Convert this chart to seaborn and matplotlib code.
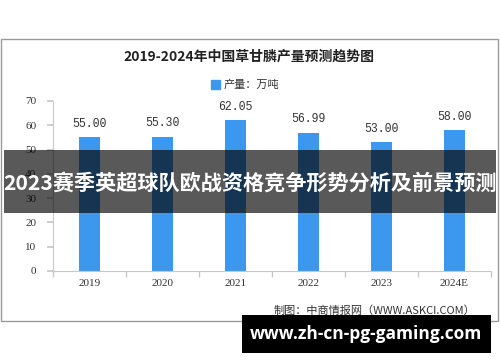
import matplotlib
matplotlib.use("Agg")
import matplotlib.pyplot as plt
from matplotlib.patches import Rectangle
import seaborn as sns
import pandas as pd

years = ["2019", "2020", "2021", "2022", "2023", "2024E"]
output = [55.00, 55.30, 62.05, 56.99, 53.00, 58.00]
y_ticks = [0, 10, 20, 30, 40, 50, 60, 70]
title = "2019-2024年中国草甘膦产量预测趋势图"
legend_label = "产量：万吨"
source = "制图：中商情报网（WWW.ASKCI.COM）"
overlay_text = "2023赛季英超球队欧战资格竞争形势分析及前景预测"
site_text = "www.zh-cn-pg-gaming.com"

sns.set_theme(style="white")
plt.rcParams['font.family'] = ['Noto Sans CJK SC', 'DejaVu Sans']

W, H = 500, 362
fig = plt.figure(figsize=(5, 3.62), dpi=100)
fig.patch.set_facecolor("white")

def fx(px):
    return px / W

def fy(py):
    return 1 - py / H

# frame
fig.patches.append(Rectangle((fx(0.5), fy(321)), fx(498) - fx(0.5), fy(39) - fy(321),
                             transform=fig.transFigure, fill=False,
                             edgecolor="#9a9a9a", linewidth=1.0, zorder=0))

ax = fig.add_axes([fx(53), fy(271), fx(491) - fx(53), fy(101) - fy(271)])
ax.set_facecolor("none")
df = pd.DataFrame({"year": years, "value": output})
bar_color = "#3c98ef"
sns.barplot(data=df, x="year", y="value", order=years, color=bar_color,
            width=0.3, saturation=1, ax=ax, edgecolor="none")
ax.set_xlim(-0.5, len(years) - 0.5)
ax.set_ylim(0, 70)
ax.set_yticks(y_ticks)
ax.set_xlabel("")
ax.set_ylabel("")
for s in ["top", "right"]:
    ax.spines[s].set_visible(False)
for s in ["left", "bottom"]:
    ax.spines[s].set_color("#c8c8c8")
    ax.spines[s].set_linewidth(0.8)
ax.tick_params(axis="y", length=4, color="#c8c8c8", labelsize=8, labelcolor="#333333", pad=8, left=True)
ax.tick_params(axis="x", length=0, labelsize=8, labelcolor="#333333", pad=6)
for lab in ax.get_yticklabels() + ax.get_xticklabels():
    lab.set_fontfamily(["Liberation Serif", "DejaVu Serif"])
# category boundary ticks
ax.set_xticks([i + 0.5 for i in range(-1, len(years))], minor=True)
ax.tick_params(axis="x", which="minor", length=4, color="#c8c8c8", bottom=True)

for i, v in enumerate(output):
    ax.text(i, v + 3.0, f"{v:.2f}", ha="center", va="bottom", fontsize=8.3,
            color="#333333", family=["Liberation Mono", "DejaVu Sans Mono"])

fig.text(fx(249), fy(57), title, ha="center", va="center", fontsize=10,
         fontweight="bold", color="#222222")
fig.patches.append(Rectangle((fx(211), fy(89)), fx(9), fy(80) - fy(89),
                             transform=fig.transFigure, color=bar_color))
fig.text(fx(224), fy(84.5), legend_label, ha="left", va="center", fontsize=8, color="#333333")

fig.text(fx(475), fy(311), source, ha="right", va="center", fontsize=8, color="#333333")

# dark overlay band
fig.patches.append(Rectangle((fx(4), fy(213)), fx(496) - fx(4), fy(150) - fy(213),
                             transform=fig.transFigure, color="black", alpha=0.65,
                             linewidth=0, zorder=10))
fig.text(fx(250), fy(183), overlay_text, ha="center", va="center", fontsize=15.2,
         fontweight="bold", color="white", zorder=11)

# bottom black box
fig.patches.append(Rectangle((fx(242), fy(353)), fx(491) - fx(242), fy(315) - fy(353),
                             transform=fig.transFigure, color="black", linewidth=0, zorder=10))
fig.text(fx(366), fy(334), site_text, ha="center", va="center", fontsize=12.5,
         fontweight="bold", color="white", family=["Open Sans", "DejaVu Sans"], zorder=11)

fig.savefig("out.png", dpi=100, facecolor="white")
